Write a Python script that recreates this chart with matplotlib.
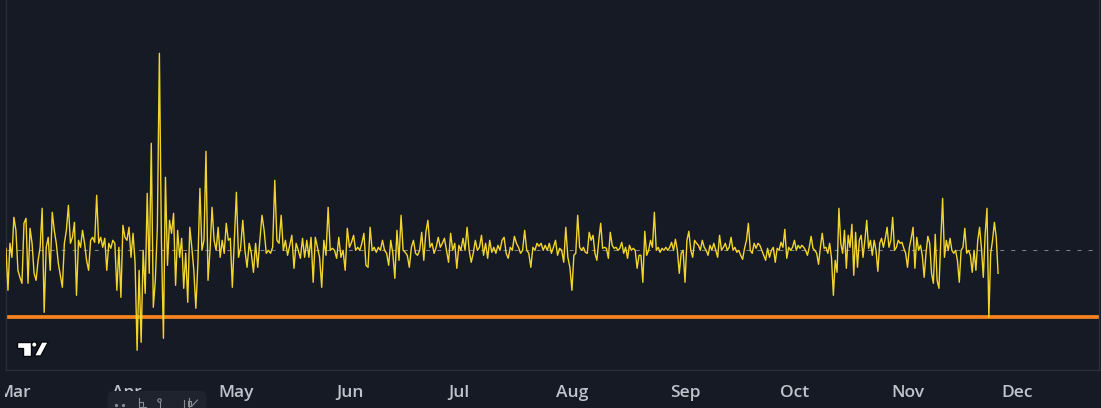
import matplotlib
matplotlib.use('Agg')
import matplotlib.pyplot as plt
import matplotlib.dates as mdates
from matplotlib.patches import Polygon, Circle, Rectangle, FancyBboxPatch
import pandas as pd

# readings per month, 0 = reference level
feb_vals = [2, -40, 7, -7]
mar_vals = [33, 20, -20, -27, -33, 27, 32, -33, 22, 7, -23, -30, -10, 3, 42, -62, 3, 13, -20, 38,
            20, 7, -13, -25, -37, 7, 20, 45, 7, 13, 28, -45, 10, 3, 20, 7, -10, -20, 10, 13,
            8, 55, 7, 13, 3, 12, -20, 7, 2, 10, 7, -40, 3, -47, 25, 13]
apr_vals = [10, 23, -7, 17, -12, -100, -20, -92, 0, -43, 57, -23, 107, -57, -30, 23, 197, 10, -88, 73,
            -15, 30, 17, 37, -35, 20, -7, 12, -38, -3, -52, 23, 3, -20, -58, -13, 62, 0, 10, 99,
            -30, 0, 43, 10, 0, 23, -7, 10, -3, 27, 10, 12, -37, 10]
may_vals = [58, -7, 3, 30, 0, -17, 7, -3, -22, 7, -17, 10, 35, 20, -3, 0, -3, 3, 70, 10,
            7, 35, 0, 10, -5, 5, 15, -18, 7, 0, -8, 12, -7, 10, -7, 13, -32, 13, 3, -7,
            -37, 10, -5, 43, 0, 2, 0, -8, 13, -7, 0, -20, 22]
jun_vals = [3, 8, 15, 0, 3, 0, 7, 17, -15, -17, 23, 0, 3, -2, 3, 0, 10, 0, -3, -15,
            10, -3, -28, 20, -10, 35, 0, -2, -5, -17, 3, 10, -3, -5, 0, 18, -10, 18, 30, 3,
            7, -3, 3, 13, 3, 7, 12, 0, -12, 17, 0, 7, -18]
jul_vals = [5, 0, 12, 0, 23, 0, -12, -3, 10, 0, 3, 15, -5, 7, -8, 10, -2, 3, -3, 5,
            0, 10, 13, -3, -8, 3, 0, 14, 7, 3, -3, 0, 20, 0, -3, -17, 3, 0, 7, 4,
            7, 0, 5, 0, 7, -3, 3, 10, -5, 2, 0, -12, 23, -7, -17]
aug_vals = [-40, -5, -3, 35, 3, 0, 3, -2, -3, 18, 10, 15, -3, -10, 10, 27, 2, 3, 2, -8,
            18, 5, 2, 3, 0, 2, 8, -3, 3, -8, 5, 0, 2, 0, -18, -5, -5, -32, 19, -5,
            0, 10, 3, 38, 0, 3, -2, 2, 0, 3, 0, 3, 8, 0, 11, 0, -23, -3, 0]
sep_vals = [-32, 10, 19, 0, -7, 10, 7, 5, 0, 10, 3, 0, -5, 5, 0, 7, 0, -7, 15, 0,
            3, 7, 0, 3, 13, 0, 3, -2, 0, -5, -9, 2, 10, 27, 0, -3, 7, 2, 7, 5,
            0, -5, -10, 2, -7, 0, 3, -12, 2, 0, 8, 3, 21, -8, 3, 0, 3]
oct_vals = [10, 0, 5, 2, 5, 3, 0, -5, 3, 14, 2, 0, -3, -14, 3, 17, 2, 3, -3, 7,
            -8, -45, -10, -22, 42, 7, -3, 20, -18, 15, 3, 26, -25, 18, -17, 10, 15, -7, 10, 30,
            2, 10, -5, 10, 0, -21, 7, 12, 3, 12, 23, 3, 10, 33, 0, 3, 10, 7, 8, 2, -3]
nov_vals = [-17, 3, 12, 23, -18, 13, 0, 5, -5, -27, -3, 14, 7, -23, -33, 16, -30, -38, 10, 52,
            -7, 10, 0, 12, 0, -3, 0, -10, -32, 0, 3, 22, -3, 0, -5, -22, 0, -20, 10, 23,
            2, -27, 16, 42, -67, -3, 10, 28, 13, -23]

reference_level = 0
threshold_level = -67

month_ticks = ['2024-03-01', '2024-04-01', '2024-05-01', '2024-06-01', '2024-07-01',
               '2024-08-01', '2024-09-01', '2024-10-01', '2024-11-01', '2024-12-01']
month_labels = ['Mar', 'Apr', 'May', 'Jun', 'Jul', 'Aug', 'Sep', 'Oct', 'Nov', 'Dec']

segments = [
    ('2024-02-27 20:00', '2024-03-01', feb_vals),
    ('2024-03-01', '2024-04-01', mar_vals),
    ('2024-04-01', '2024-05-01', apr_vals),
    ('2024-05-01', '2024-06-01', may_vals),
    ('2024-06-01', '2024-07-01', jun_vals),
    ('2024-07-01', '2024-08-01', jul_vals),
    ('2024-08-01', '2024-09-01', aug_vals),
    ('2024-09-01', '2024-10-01', sep_vals),
    ('2024-10-01', '2024-11-01', oct_vals),
]
times = []
values = []
for start, end, vals in segments:
    times += list(pd.date_range(start, end, periods=len(vals) + 1)[:-1])
    values += vals
times += list(pd.date_range('2024-11-01', '2024-11-25 20:00', periods=len(nov_vals)))
values += nov_vals

bg = '#161a25'
W, H = 1101, 408

fig = plt.figure(figsize=(W / 100, H / 100), dpi=100, facecolor=bg)
ax = fig.add_axes([5.5 / W, 38 / H, 1093.5 / W, 370 / H])
ax.set_facecolor(bg)

ax.axhline(reference_level, color='#7d808a', lw=0.75, linestyle=(0, (3.8, 6.8)), zorder=1)
ax.axhline(threshold_level, color='#f7841f', lw=2.7, zorder=2)
ax.plot(times, values, color='#f2d52c', lw=1.0, zorder=3)

x0 = mdates.date2num(pd.Timestamp('2024-03-01'))
ax.set_xlim(x0 - 2.3, x0 + 297.5)
ax.set_ylim(-119.7, 250.3)

ax.set_xticks([mdates.date2num(pd.Timestamp(t)) for t in month_ticks])
ax.set_xticklabels(month_labels, family='Open Sans', fontweight='semibold', fontsize=12.5)
ax.set_yticks([])
ax.tick_params(axis='x', length=0, pad=10.5, labelcolor='#c0c3cb')

for s in ['left', 'bottom', 'right']:
    ax.spines[s].set_color('#2a2e39')
    ax.spines[s].set_linewidth(1)
ax.spines['top'].set_visible(False)

# hide part of first month label left of the pane
fig.add_artist(Rectangle((0, 0), 5 / W, 38 / H, transform=fig.transFigure,
                         facecolor=bg, edgecolor='none', zorder=10))

# logo
lax = fig.add_axes([14 / W, (H - 359) / H, 38 / W, 21 / H])
lax.set_xlim(14, 52)
lax.set_ylim(359, 338)
lax.axis('off')
lax.add_patch(Polygon([(17, 342), (30.5, 342), (30.5, 356), (23, 356), (23, 348.3), (17, 348.3)],
                      closed=True, facecolor='white', edgecolor='#06080c', lw=1))
lax.add_patch(Circle((34.3, 344.6), 2.7, facecolor='white', edgecolor='#06080c', lw=1))
lax.add_patch(Polygon([(34.3, 356), (41.7, 342), (48.3, 342), (40.8, 356)],
                      closed=True, facecolor='white', edgecolor='#06080c', lw=1))

# floating toolbar at the bottom
tax = fig.add_axes([100 / W, 0, 115 / W, 22 / H], zorder=20)
tax.set_xlim(100, 215)
tax.set_ylim(408, 386)
tax.axis('off')
tax.add_patch(FancyBboxPatch((107.5, 391), 99, 30, boxstyle='round,pad=0,rounding_size=6',
                             facecolor='#1f232e', edgecolor='none'))
ic = '#8a8d96'
tax.plot([115.5, 122.5], [404.5, 404.5], linestyle='none', marker='o', ms=1.3, color=ic)
tax.plot([139, 139, 146], [398, 407, 407], color=ic, lw=0.8)
tax.plot([139, 143, 143], [401.5, 401.5, 407], color=ic, lw=0.8)
tax.add_patch(Circle((159.5, 400.5), 1.7, facecolor='none', edgecolor=ic, lw=0.8))
tax.plot([159.5, 159.5], [402.2, 408], color=ic, lw=0.8)
tax.plot([184, 184], [400, 408], color=ic, lw=0.8)
tax.plot([189, 189], [398, 408], color=ic, lw=0.8)
tax.plot([187.5, 190.5, 190.5, 187.5, 187.5], [401, 401, 406, 406, 401], color=ic, lw=0.8)
tax.plot([192, 197.5], [406, 400], color=ic, lw=0.8)

plt.savefig('out.png', dpi=100, facecolor=bg)
plt.close(fig)
